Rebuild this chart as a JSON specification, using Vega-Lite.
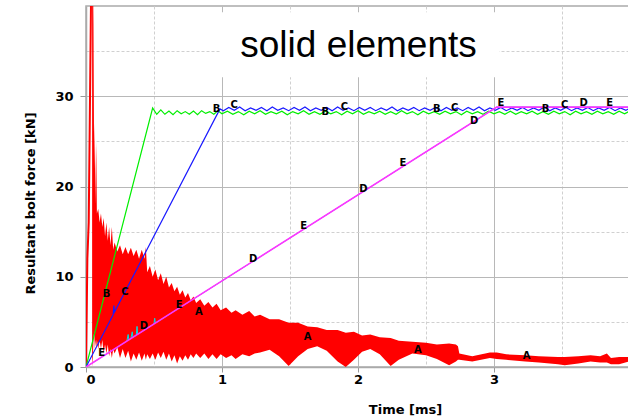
{
  "$schema": "https://vega.github.io/schema/vega-lite/v6.json",
  "width": 544,
  "height": 361,
  "autosize": {"type": "none"},
  "padding": {"left": 86, "top": 6, "right": 0, "bottom": 53},
  "background": "white",
  "config": {
    "view": {"stroke": "#aaaaaa", "strokeWidth": 1.5},
    "font": "DejaVu Sans"
  },
  "datasets": {
    "band": [
      {"t": 0.045, "lo": 0, "hi": 45}, {"t": 0.05, "lo": 1, "hi": 45}, {"t": 0.055, "lo": 3, "hi": 38},
      {"t": 0.06, "lo": 4, "hi": 22}, {"t": 0.065, "lo": 2, "hi": 27}, {"t": 0.07, "lo": 3, "hi": 18},
      {"t": 0.075, "lo": 2, "hi": 25}, {"t": 0.08, "lo": 3, "hi": 17}, {"t": 0.09, "lo": 2, "hi": 17.5},
      {"t": 0.1, "lo": 3, "hi": 16}, {"t": 0.11, "lo": 2, "hi": 17}, {"t": 0.12, "lo": 3, "hi": 15.5},
      {"t": 0.13, "lo": 1.5, "hi": 16.5}, {"t": 0.14, "lo": 2.5, "hi": 14.5}, {"t": 0.15, "lo": 1.5, "hi": 16},
      {"t": 0.16, "lo": 2.5, "hi": 14}, {"t": 0.17, "lo": 1.2, "hi": 15.5}, {"t": 0.18, "lo": 2, "hi": 13.5},
      {"t": 0.19, "lo": 1, "hi": 15.5}, {"t": 0.2, "lo": 2, "hi": 13}, {"t": 0.21, "lo": 1.5, "hi": 13.8},
      {"t": 0.23, "lo": 2.2, "hi": 12.8}, {"t": 0.25, "lo": 1, "hi": 13.5}, {"t": 0.27, "lo": 2, "hi": 12.5},
      {"t": 0.29, "lo": 1, "hi": 13.3}, {"t": 0.31, "lo": 1.8, "hi": 12.5}, {"t": 0.33, "lo": 0.6, "hi": 13.2},
      {"t": 0.35, "lo": 1.5, "hi": 12.3}, {"t": 0.37, "lo": 0.8, "hi": 13}, {"t": 0.39, "lo": 1.6, "hi": 12},
      {"t": 0.41, "lo": 0.7, "hi": 13}, {"t": 0.43, "lo": 1.5, "hi": 12}, {"t": 0.44, "lo": 0.8, "hi": 13.3},
      {"t": 0.45, "lo": 1.4, "hi": 10.5}, {"t": 0.47, "lo": 0.9, "hi": 11.2}, {"t": 0.49, "lo": 1.5, "hi": 10},
      {"t": 0.51, "lo": 0.8, "hi": 10.8}, {"t": 0.53, "lo": 1.6, "hi": 9.6}, {"t": 0.55, "lo": 1.0, "hi": 10.4},
      {"t": 0.57, "lo": 1.7, "hi": 9.2}, {"t": 0.59, "lo": 0.8, "hi": 10}, {"t": 0.61, "lo": 1.5, "hi": 8.8},
      {"t": 0.63, "lo": 0.6, "hi": 9.3}, {"t": 0.65, "lo": 1.3, "hi": 8.4}, {"t": 0.67, "lo": 0.4, "hi": 8.9},
      {"t": 0.69, "lo": 1.2, "hi": 8}, {"t": 0.71, "lo": 0.7, "hi": 8.5}, {"t": 0.73, "lo": 1.3, "hi": 7.7},
      {"t": 0.75, "lo": 0.8, "hi": 8.2}, {"t": 0.77, "lo": 1.4, "hi": 7.4}, {"t": 0.79, "lo": 1.0, "hi": 7.8},
      {"t": 0.81, "lo": 1.5, "hi": 7.1}, {"t": 0.84, "lo": 1.0, "hi": 7.5}, {"t": 0.87, "lo": 1.5, "hi": 6.8},
      {"t": 0.9, "lo": 0.9, "hi": 7.2}, {"t": 0.93, "lo": 1.4, "hi": 6.6}, {"t": 0.96, "lo": 0.9, "hi": 7.0},
      {"t": 0.99, "lo": 1.4, "hi": 6.3}, {"t": 1.03, "lo": 1.0, "hi": 6.6}, {"t": 1.07, "lo": 1.3, "hi": 6.0},
      {"t": 1.1, "lo": 0.9, "hi": 6.3}, {"t": 1.15, "lo": 1.4, "hi": 5.8}, {"t": 1.2, "lo": 1.2, "hi": 6.2},
      {"t": 1.24, "lo": 1.5, "hi": 5.6}, {"t": 1.28, "lo": 1.6, "hi": 5.8}, {"t": 1.35, "lo": 1.9, "hi": 5.3},
      {"t": 1.42, "lo": 1.2, "hi": 5.3}, {"t": 1.49, "lo": 0.1, "hi": 4.9}, {"t": 1.56, "lo": 1.2, "hi": 4.9},
      {"t": 1.63, "lo": 2.0, "hi": 4.5}, {"t": 1.7, "lo": 2.3, "hi": 4.4}, {"t": 1.77, "lo": 1.8, "hi": 4.1},
      {"t": 1.85, "lo": 0.6, "hi": 4.1}, {"t": 1.91, "lo": 0.0, "hi": 3.8}, {"t": 1.97, "lo": 0.8, "hi": 3.9},
      {"t": 2.03, "lo": 1.7, "hi": 3.5}, {"t": 2.09, "lo": 2.0, "hi": 3.6}, {"t": 2.16, "lo": 1.4, "hi": 3.3},
      {"t": 2.24, "lo": 0.1, "hi": 3.2}, {"t": 2.3, "lo": 0.8, "hi": 2.9}, {"t": 2.4, "lo": 1.5, "hi": 2.8},
      {"t": 2.5, "lo": 1.3, "hi": 2.7}, {"t": 2.58, "lo": 0.9, "hi": 2.5}, {"t": 2.67, "lo": 0.2, "hi": 2.6},
      {"t": 2.72, "lo": 0.6, "hi": 2.5}, {"t": 2.735, "lo": 0.8, "hi": 2.3}, {"t": 2.745, "lo": 0.8, "hi": 1.5},
      {"t": 2.84, "lo": 0.6, "hi": 1.2}, {"t": 2.97, "lo": 1.0, "hi": 1.6}, {"t": 3.02, "lo": 0.9, "hi": 1.6},
      {"t": 3.09, "lo": 0.8, "hi": 1.4}, {"t": 3.23, "lo": 0.6, "hi": 1.3}, {"t": 3.33, "lo": 0.5, "hi": 1.2},
      {"t": 3.47, "lo": 0.3, "hi": 1.1}, {"t": 3.52, "lo": 0.2, "hi": 1.1}, {"t": 3.62, "lo": 0.4, "hi": 1.2},
      {"t": 3.71, "lo": 0.6, "hi": 1.3}, {"t": 3.78, "lo": 0.5, "hi": 1.2}, {"t": 3.83, "lo": 0.5, "hi": 1.5},
      {"t": 3.86, "lo": 0.3, "hi": 1.0}, {"t": 3.92, "lo": 0.3, "hi": 1.1}, {"t": 3.99, "lo": 0.6, "hi": 1.1}
    ],
    "lines": [
      {"s": "A", "t": 0, "v": 0}, {"s": "A", "t": 0.01, "v": 12}, {"s": "A", "t": 0.02, "v": 16}, {"s": "A", "t": 0.04, "v": 45},
      {"s": "B", "t": 0, "v": 0}, {"s": "B", "t": 0.49, "v": 28.7}, {"s": "B", "t": 0.52, "v": 28.0}, {"s": "B", "t": 0.55, "v": 28.5},
      {"s": "B", "t": 0.58, "v": 28.0}, {"s": "B", "t": 0.61, "v": 28.35}, {"s": "B", "t": 0.64, "v": 27.95}, {"s": "B", "t": 0.67, "v": 28.4},
      {"s": "B", "t": 0.70, "v": 28.05}, {"s": "B", "t": 0.73, "v": 28.3}, {"s": "B", "t": 0.76, "v": 28.0}, {"s": "B", "t": 0.79, "v": 28.35},
      {"s": "B", "t": 0.82, "v": 27.95}, {"s": "B", "t": 0.85, "v": 28.4}, {"s": "B", "t": 0.88, "v": 28.1}, {"s": "B", "t": 0.91, "v": 28.3},
      {"s": "B", "t": 0.94, "v": 28.0}, {"s": "B", "t": 0.97, "v": 28.4}, {"s": "B", "t": 1.00, "v": 28.05}, {"s": "B", "t": 1.04, "v": 28.35},
      {"s": "B", "t": 1.08, "v": 28.0}, {"s": "B", "t": 1.12, "v": 28.3}, {"s": "B", "t": 1.16, "v": 27.95}, {"s": "B", "t": 1.20, "v": 28.35},
      {"s": "B", "t": 1.24, "v": 28.05}, {"s": "B", "t": 1.28, "v": 28.4}, {"s": "B", "t": 1.32, "v": 28.0}, {"s": "B", "t": 1.36, "v": 28.3},
      {"s": "B", "t": 1.40, "v": 28.05}, {"s": "B", "t": 1.44, "v": 28.35}, {"s": "B", "t": 1.48, "v": 27.95}, {"s": "B", "t": 1.52, "v": 28.3},
      {"s": "B", "t": 1.56, "v": 28.05}, {"s": "B", "t": 1.60, "v": 28.4}, {"s": "B", "t": 1.64, "v": 28.0}, {"s": "B", "t": 1.68, "v": 28.3},
      {"s": "B", "t": 1.72, "v": 28.0}, {"s": "B", "t": 1.76, "v": 28.35}, {"s": "B", "t": 1.80, "v": 28.05}, {"s": "B", "t": 1.84, "v": 28.3},
      {"s": "B", "t": 1.88, "v": 27.95}, {"s": "B", "t": 1.92, "v": 28.35}, {"s": "B", "t": 1.96, "v": 28.05}, {"s": "B", "t": 2.00, "v": 28.4},
      {"s": "B", "t": 2.04, "v": 28.0}, {"s": "B", "t": 2.08, "v": 28.3}, {"s": "B", "t": 2.12, "v": 28.05}, {"s": "B", "t": 2.16, "v": 28.35},
      {"s": "B", "t": 2.20, "v": 28.0}, {"s": "B", "t": 2.24, "v": 28.3}, {"s": "B", "t": 2.28, "v": 28.0}, {"s": "B", "t": 2.32, "v": 28.4},
      {"s": "B", "t": 2.36, "v": 28.05}, {"s": "B", "t": 2.40, "v": 28.3}, {"s": "B", "t": 2.44, "v": 27.95}, {"s": "B", "t": 2.48, "v": 28.35},
      {"s": "B", "t": 2.52, "v": 28.05}, {"s": "B", "t": 2.56, "v": 28.3}, {"s": "B", "t": 2.60, "v": 28.0}, {"s": "B", "t": 2.64, "v": 28.35},
      {"s": "B", "t": 2.68, "v": 28.05}, {"s": "B", "t": 2.72, "v": 28.3}, {"s": "B", "t": 2.76, "v": 27.95}, {"s": "B", "t": 2.80, "v": 28.35},
      {"s": "B", "t": 2.84, "v": 28.05}, {"s": "B", "t": 2.88, "v": 28.3}, {"s": "B", "t": 2.92, "v": 28.0}, {"s": "B", "t": 2.96, "v": 28.35},
      {"s": "B", "t": 3.00, "v": 28.05}, {"s": "B", "t": 3.04, "v": 28.3}, {"s": "B", "t": 3.08, "v": 28.0}, {"s": "B", "t": 3.12, "v": 28.35},
      {"s": "B", "t": 3.16, "v": 28.0}, {"s": "B", "t": 3.20, "v": 28.3}, {"s": "B", "t": 3.24, "v": 28.05}, {"s": "B", "t": 3.28, "v": 28.35},
      {"s": "B", "t": 3.32, "v": 28.0}, {"s": "B", "t": 3.36, "v": 28.3}, {"s": "B", "t": 3.40, "v": 28.0}, {"s": "B", "t": 3.44, "v": 28.35},
      {"s": "B", "t": 3.48, "v": 28.05}, {"s": "B", "t": 3.52, "v": 28.3}, {"s": "B", "t": 3.56, "v": 27.95}, {"s": "B", "t": 3.60, "v": 28.35},
      {"s": "B", "t": 3.64, "v": 28.05}, {"s": "B", "t": 3.68, "v": 28.3}, {"s": "B", "t": 3.72, "v": 28.0}, {"s": "B", "t": 3.76, "v": 28.35},
      {"s": "B", "t": 3.80, "v": 28.05}, {"s": "B", "t": 3.84, "v": 28.3}, {"s": "B", "t": 3.88, "v": 28.0}, {"s": "B", "t": 3.92, "v": 28.35},
      {"s": "B", "t": 3.96, "v": 28.05}, {"s": "B", "t": 3.99, "v": 28.3},
      {"s": "C", "t": 0, "v": 0}, {"s": "C", "t": 0.2, "v": 5.8}, {"s": "C", "t": 0.205, "v": 6.8}, {"s": "C", "t": 0.21, "v": 6.1},
      {"s": "C", "t": 0.985, "v": 28.6}, {"s": "C", "t": 1.01, "v": 28.4}, {"s": "C", "t": 1.05, "v": 28.75}, {"s": "C", "t": 1.09, "v": 28.45},
      {"s": "C", "t": 1.13, "v": 28.8}, {"s": "C", "t": 1.17, "v": 28.4}, {"s": "C", "t": 1.21, "v": 28.7}, {"s": "C", "t": 1.25, "v": 28.45},
      {"s": "C", "t": 1.29, "v": 28.75}, {"s": "C", "t": 1.33, "v": 28.4}, {"s": "C", "t": 1.37, "v": 28.8}, {"s": "C", "t": 1.41, "v": 28.45},
      {"s": "C", "t": 1.45, "v": 28.7}, {"s": "C", "t": 1.49, "v": 28.4}, {"s": "C", "t": 1.53, "v": 28.75}, {"s": "C", "t": 1.57, "v": 28.45},
      {"s": "C", "t": 1.61, "v": 28.8}, {"s": "C", "t": 1.65, "v": 28.4}, {"s": "C", "t": 1.69, "v": 28.7}, {"s": "C", "t": 1.73, "v": 28.45},
      {"s": "C", "t": 1.77, "v": 28.75}, {"s": "C", "t": 1.81, "v": 28.4}, {"s": "C", "t": 1.85, "v": 28.8}, {"s": "C", "t": 1.89, "v": 28.45},
      {"s": "C", "t": 1.93, "v": 28.7}, {"s": "C", "t": 1.97, "v": 28.4}, {"s": "C", "t": 2.01, "v": 28.75}, {"s": "C", "t": 2.05, "v": 28.45},
      {"s": "C", "t": 2.09, "v": 28.75}, {"s": "C", "t": 2.13, "v": 28.4}, {"s": "C", "t": 2.17, "v": 28.7}, {"s": "C", "t": 2.21, "v": 28.45},
      {"s": "C", "t": 2.25, "v": 28.8}, {"s": "C", "t": 2.29, "v": 28.4}, {"s": "C", "t": 2.33, "v": 28.7}, {"s": "C", "t": 2.37, "v": 28.45},
      {"s": "C", "t": 2.41, "v": 28.75}, {"s": "C", "t": 2.45, "v": 28.4}, {"s": "C", "t": 2.49, "v": 28.7}, {"s": "C", "t": 2.53, "v": 28.45},
      {"s": "C", "t": 2.57, "v": 28.75}, {"s": "C", "t": 2.61, "v": 28.4}, {"s": "C", "t": 2.65, "v": 28.75}, {"s": "C", "t": 2.69, "v": 28.45},
      {"s": "C", "t": 2.73, "v": 28.7}, {"s": "C", "t": 2.77, "v": 28.4}, {"s": "C", "t": 2.81, "v": 28.75}, {"s": "C", "t": 2.85, "v": 28.45},
      {"s": "C", "t": 2.89, "v": 28.8}, {"s": "C", "t": 2.93, "v": 28.4}, {"s": "C", "t": 2.97, "v": 28.7}, {"s": "C", "t": 3.01, "v": 28.45},
      {"s": "C", "t": 3.05, "v": 28.75}, {"s": "C", "t": 3.09, "v": 28.4}, {"s": "C", "t": 3.13, "v": 28.7}, {"s": "C", "t": 3.17, "v": 28.45},
      {"s": "C", "t": 3.21, "v": 28.75}, {"s": "C", "t": 3.25, "v": 28.4}, {"s": "C", "t": 3.29, "v": 28.7}, {"s": "C", "t": 3.33, "v": 28.45},
      {"s": "C", "t": 3.37, "v": 28.8}, {"s": "C", "t": 3.41, "v": 28.4}, {"s": "C", "t": 3.45, "v": 28.7}, {"s": "C", "t": 3.49, "v": 28.45},
      {"s": "C", "t": 3.53, "v": 28.75}, {"s": "C", "t": 3.57, "v": 28.4}, {"s": "C", "t": 3.61, "v": 28.7}, {"s": "C", "t": 3.65, "v": 28.45},
      {"s": "C", "t": 3.69, "v": 28.75}, {"s": "C", "t": 3.73, "v": 28.4}, {"s": "C", "t": 3.77, "v": 28.7}, {"s": "C", "t": 3.81, "v": 28.45},
      {"s": "C", "t": 3.85, "v": 28.75}, {"s": "C", "t": 3.89, "v": 28.4}, {"s": "C", "t": 3.93, "v": 28.7}, {"s": "C", "t": 3.97, "v": 28.45},
      {"s": "C", "t": 3.99, "v": 28.6},
      {"s": "D", "t": 0, "v": 0}, {"s": "D", "t": 0.3, "v": 2.86}, {"s": "D", "t": 0.31, "v": 3.6}, {"s": "D", "t": 0.315, "v": 3.0},
      {"s": "D", "t": 0.33, "v": 3.15}, {"s": "D", "t": 0.34, "v": 3.9}, {"s": "D", "t": 0.345, "v": 3.29}, {"s": "D", "t": 0.37, "v": 3.53},
      {"s": "D", "t": 0.375, "v": 4.5}, {"s": "D", "t": 0.38, "v": 3.62}, {"s": "D", "t": 0.42, "v": 4.0}, {"s": "D", "t": 0.5, "v": 4.77},
      {"s": "D", "t": 0.505, "v": 5.4}, {"s": "D", "t": 0.51, "v": 4.86}, {"s": "D", "t": 3.02, "v": 28.8}, {"s": "D", "t": 3.99, "v": 28.8},
      {"s": "E", "t": 0, "v": 0}, {"s": "E", "t": 3.02, "v": 28.8}, {"s": "E", "t": 3.99, "v": 28.8}
    ],
    "labels": [
      {"t": 0.83, "v": 6.1, "txt": "A"}, {"t": 1.63, "v": 3.3, "txt": "A"}, {"t": 2.44, "v": 1.9, "txt": "A"}, {"t": 3.24, "v": 1.26, "txt": "A"},
      {"t": 0.152, "v": 8.1, "txt": "B"}, {"t": 0.96, "v": 28.6, "txt": "B"}, {"t": 1.76, "v": 28.3, "txt": "B"}, {"t": 2.58, "v": 28.6, "txt": "B"}, {"t": 3.38, "v": 28.6, "txt": "B"},
      {"t": 0.287, "v": 8.3, "txt": "C"}, {"t": 1.09, "v": 29.0, "txt": "C"}, {"t": 1.9, "v": 28.85, "txt": "C"}, {"t": 2.71, "v": 28.7, "txt": "C"}, {"t": 3.52, "v": 29.0, "txt": "C"},
      {"t": 0.426, "v": 4.55, "txt": "D"}, {"t": 1.23, "v": 11.97, "txt": "D"}, {"t": 2.04, "v": 19.67, "txt": "D"}, {"t": 2.855, "v": 27.3, "txt": "D"}, {"t": 3.66, "v": 29.2, "txt": "D"},
      {"t": 0.115, "v": 1.5, "txt": "E"}, {"t": 0.686, "v": 6.9, "txt": "E"}, {"t": 1.6, "v": 15.6, "txt": "E"}, {"t": 2.33, "v": 22.6, "txt": "E"}, {"t": 3.05, "v": 29.2, "txt": "E"}, {"t": 3.85, "v": 29.2, "txt": "E"}
    ]
  },
  "layer": [
    {
      "data": {"name": "band"},
      "mark": {"type": "area", "color": "#ff0000", "opacity": 1, "clip": true},
      "encoding": {
        "x": {
          "field": "t", "type": "quantitative",
          "scale": {"domain": [0, 4], "nice": false, "zero": false},
          "axis": {
            "values": [0, 0.5, 1, 1.5, 2, 2.5, 3, 3.5],
            "labelExpr": "datum.value % 1 === 0 ? format(datum.value, 'd') : ''",
            "title": "Time [ms]",
            "titleFont": "DejaVu Sans", "titleFontSize": 13, "titleFontWeight": "bold", "titleColor": "black",
            "titleX": 319, "titleY": 42, "titleBaseline": "middle", "titleAlign": "center",
            "labelFont": "DejaVu Sans", "labelFontSize": 13, "labelFontWeight": "bold", "labelColor": "black",
            "labelPadding": 1, "tickSize": 5,
            "tickColor": {"condition": {"test": "datum.value % 1 === 0", "value": "#999999"}, "value": "#ffffff00"},
            "domainColor": "#aaaaaa", "domainWidth": 1.5,
            "grid": true,
            "gridColor": {"condition": {"test": "datum.value % 1 === 0", "value": "#b8b8b8"}, "value": "#d0d0d0"},
            "gridDash": {"condition": {"test": "datum.value % 1 === 0", "value": []}, "value": [3, 2]},
            "gridWidth": 1
          }
        },
        "y": {
          "field": "hi", "type": "quantitative",
          "scale": {"domain": [0, 40], "nice": false},
          "axis": {
            "values": [0, 5, 10, 15, 20, 25, 30, 35],
            "labelExpr": "datum.value % 10 === 0 ? format(datum.value, 'd') : ''",
            "title": "Resultant bolt force [kN]",
            "titleFont": "DejaVu Sans", "titleFontSize": 13, "titleFontWeight": "bold", "titleColor": "black",
            "titleX": -56, "titleY": 197, "titleBaseline": "middle", "titleAlign": "center", "titleAngle": 270,
            "labelFont": "DejaVu Sans", "labelFontSize": 13, "labelFontWeight": "bold", "labelColor": "black",
            "labelPadding": 7, "tickSize": 6,
            "tickColor": {"condition": {"test": "datum.value % 10 === 0", "value": "#999999"}, "value": "#ffffff00"},
            "domainColor": "#aaaaaa", "domainWidth": 1.5,
            "grid": true,
            "gridColor": {"condition": {"test": "datum.value % 10 === 0", "value": "#b8b8b8"}, "value": "#d0d0d0"},
            "gridDash": {"condition": {"test": "datum.value % 10 === 0", "value": []}, "value": [3, 2]},
            "gridWidth": 1
          }
        },
        "y2": {"field": "lo"}
      }
    },
    {
      "data": {"name": "lines"},
      "transform": [{"filter": "datum.s === 'A'"}],
      "mark": {"type": "line", "color": "#ff0000", "strokeWidth": 2, "clip": true},
      "encoding": {"x": {"field": "t", "type": "quantitative"}, "y": {"field": "v", "type": "quantitative"}}
    },
    {
      "data": {"name": "lines"},
      "transform": [{"filter": "datum.s === 'B'"}],
      "mark": {"type": "line", "color": "#00ee00", "strokeWidth": 1.2, "clip": true},
      "encoding": {"x": {"field": "t", "type": "quantitative"}, "y": {"field": "v", "type": "quantitative"}}
    },
    {
      "data": {"name": "lines"},
      "transform": [{"filter": "datum.s === 'C'"}],
      "mark": {"type": "line", "color": "#1a1aff", "strokeWidth": 1.2, "clip": true},
      "encoding": {"x": {"field": "t", "type": "quantitative"}, "y": {"field": "v", "type": "quantitative"}}
    },
    {
      "data": {"name": "lines"},
      "transform": [{"filter": "datum.s === 'D'"}],
      "mark": {"type": "line", "color": "#00e0e0", "strokeWidth": 1, "clip": true},
      "encoding": {"x": {"field": "t", "type": "quantitative"}, "y": {"field": "v", "type": "quantitative"}}
    },
    {
      "data": {"name": "lines"},
      "transform": [{"filter": "datum.s === 'E'"}],
      "mark": {"type": "line", "color": "#ff33ff", "strokeWidth": 1.6, "clip": true},
      "encoding": {"x": {"field": "t", "type": "quantitative"}, "y": {"field": "v", "type": "quantitative"}}
    },
    {
      "data": {"name": "labels"},
      "mark": {"type": "text", "font": "DejaVu Sans", "fontWeight": "bold", "fontSize": 10, "color": "black", "align": "center", "baseline": "middle"},
      "encoding": {"x": {"field": "t", "type": "quantitative"}, "y": {"field": "v", "type": "quantitative"}, "text": {"field": "txt"}}
    },
    {
      "data": {"values": [{}]},
      "mark": {"type": "rect", "color": "white", "opacity": 1},
      "encoding": {"x": {"datum": 0.985}, "x2": {"datum": 3.04}, "y": {"datum": 32.1}, "y2": {"datum": 39.3}}
    },
    {
      "data": {"values": [{}]},
      "mark": {"type": "text", "font": "Liberation Sans", "fontSize": 37, "color": "black", "align": "center", "baseline": "alphabetic"},
      "encoding": {"x": {"datum": 2.004}, "y": {"datum": 34.3}, "text": {"value": "solid elements"}}
    }
  ]
}
